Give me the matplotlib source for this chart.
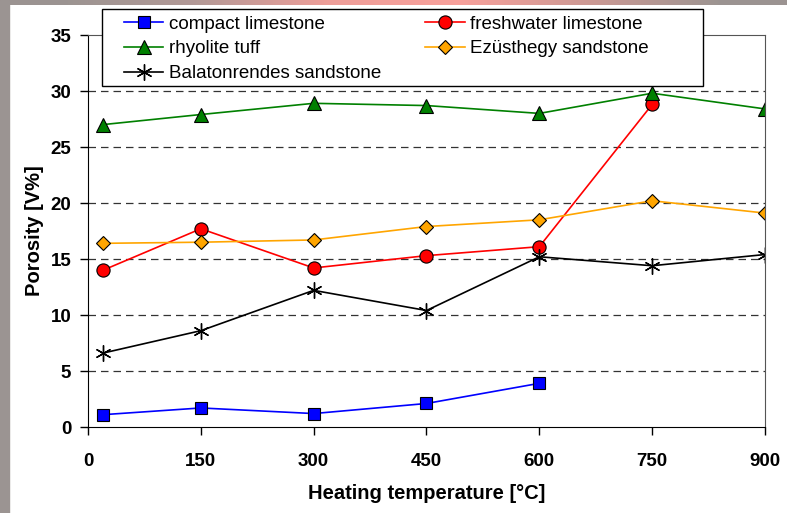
import numpy as np
import matplotlib.pyplot as plt
from matplotlib.patches import Rectangle

# temperatures [°C]
temp = [20, 150, 300, 450, 600, 750, 900]

compact = [1.1, 1.7, 1.2, 2.1, 3.9]
freshwater = [14.0, 17.7, 14.2, 15.3, 16.1, 28.8]
rhyolite = [27.0, 27.9, 28.9, 28.7, 28.0, 29.8, 28.4]
ezusthegy = [16.4, 16.5, 16.7, 17.9, 18.5, 20.2, 19.1]
balaton = [6.6, 8.6, 12.2, 10.4, 15.2, 14.4, 15.4]

xticks = [0, 150, 300, 450, 600, 750, 900]
yticks = [0, 5, 10, 15, 20, 25, 30, 35]

plt.rcParams['font.family'] = ['Liberation Sans', 'DejaVu Sans']

W, H = 787, 513
fig = plt.figure(figsize=(W/100, H/100), dpi=100)

# screenshot border: grey strip on the left, grey/pink strip on top
fig.patches.append(Rectangle((0, 0), 9/W, 1, transform=fig.transFigure, color="#9b9492", zorder=-1))
bar = fig.add_axes([0, 1-5/H, 1, 5/H], zorder=-1)
grad = np.array([[0.61, 0.58, 0.57], [0.70, 0.60, 0.59], [0.93, 0.62, 0.60],
                 [0.97, 0.63, 0.61], [0.80, 0.60, 0.58], [0.61, 0.58, 0.57]])
bar.imshow(grad[np.newaxis, :, :], aspect="auto", interpolation="bilinear")
bar.set_axis_off()

ax = fig.add_axes([88/W, 1-427/H, (765-88)/W, (427-35)/H])

mk = dict(markeredgecolor="black", markeredgewidth=0.8, lw=1.2)
l1, = ax.plot(temp[:5], compact, color="blue", marker="s", ms=8.5, markerfacecolor="blue", label="compact limestone", **mk)
l2, = ax.plot(temp[:6], freshwater, color="red", marker="o", ms=9.5, markerfacecolor="red", label="freshwater limestone", **mk)
l3, = ax.plot(temp, rhyolite, color="green", marker="^", ms=10.5, markerfacecolor="green", label="rhyolite tuff", **mk)
l4, = ax.plot(temp, ezusthegy, color="orange", marker="D", ms=7.5, markerfacecolor="orange", label="Ezüsthegy sandstone", **mk)
l5, = ax.plot(temp, balaton, color="black", marker=(6, 2, 0), ms=11.5, markeredgewidth=1.0, lw=1.2,
              label="Balatonrendes sandstone")

ax.set_xlim(0, 900)
ax.set_ylim(0, 35)
ax.set_xticks(xticks)
ax.set_yticks(yticks)
for y in yticks[1:-1]:
    ax.axhline(y, color="#333333", lw=0.9, ls=(0, (6, 4)), zorder=0)

ax.spines["top"].set_color("#555555")
ax.spines["right"].set_color("#555555")
ax.tick_params(direction="out", length=6, width=1)
ax.tick_params(axis="x", pad=13)
ax.tick_params(axis="y", pad=6)
for lab in ax.get_xticklabels() + ax.get_yticklabels():
    lab.set_fontweight("bold")
    lab.set_fontsize(13.5)

ax.set_xlabel("Heating temperature [°C]", fontsize=14.5, fontweight="bold", labelpad=10)
ax.set_ylabel("Porosity [V%]", fontsize=14.5, fontweight="bold", labelpad=5)

# legend frame drawn by hand, legend itself frameless inside
fig.patches.append(Rectangle((102/W, 1-86/H), 601/W, 77/H, transform=fig.transFigure,
                             facecolor="white", edgecolor="black", lw=1, zorder=5))
leg = fig.legend([l1, l3, l5, l2, l4], [l.get_label() for l in [l1, l3, l5, l2, l4]],
                 loc="upper left", bbox_to_anchor=(124/W, 1-15.5/H), ncol=2, fontsize=13.5,
                 frameon=False, handlelength=2.1, handletextpad=0.3, columnspacing=2.35,
                 labelspacing=0.41, borderpad=0, borderaxespad=0)
leg.set_zorder(10)

plt.savefig("out.png", dpi=100)
